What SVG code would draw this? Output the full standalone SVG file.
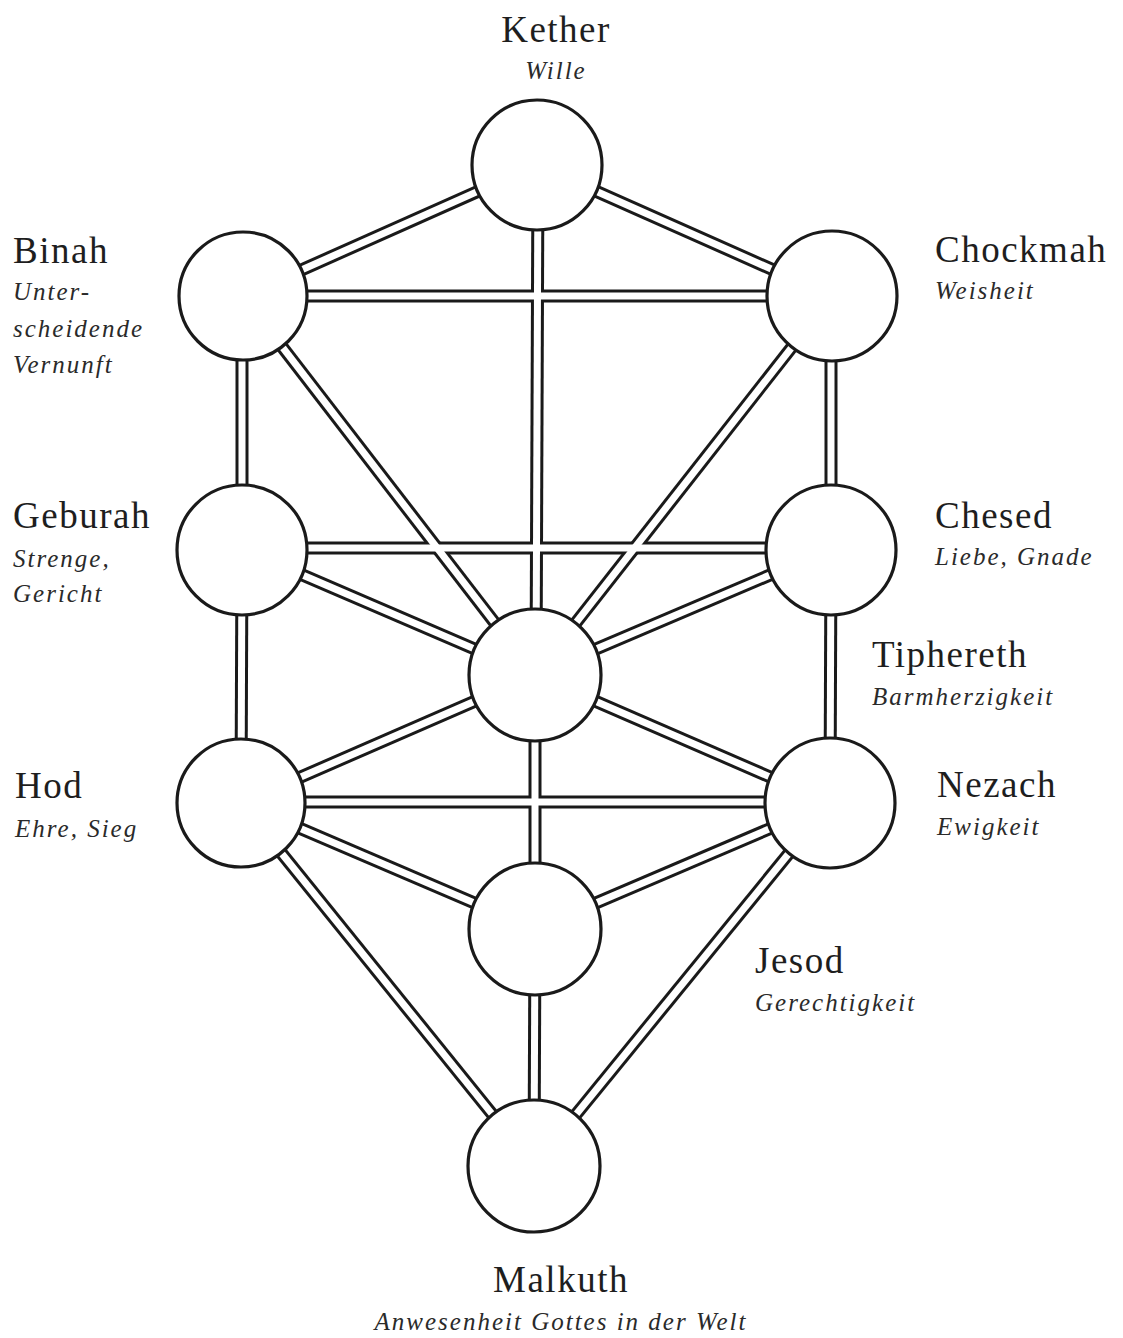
<svg xmlns="http://www.w3.org/2000/svg" xmlns:xlink="http://www.w3.org/1999/xlink" width="1123" height="1338" viewBox="0 0 1123 1338">
<style>
.bg{fill:#ffffff}
.node circle{fill:#ffffff;stroke:#1a1a1a;stroke-width:3.2}
.title{font-family:"Liberation Serif","Times New Roman",serif;font-size:37px;letter-spacing:1.5px;fill:#1e1e1e}
.sub{font-family:"Liberation Serif","Times New Roman",serif;font-style:italic;font-size:25px;letter-spacing:2px;fill:#2a2a2a}
.outer{stroke:#1a1a1a;stroke-width:13;fill:none}
.inner{stroke:#ffffff;stroke-width:7;fill:none}
</style>
<defs>
<g id="paths">
<line x1="537" y1="165" x2="243" y2="296"/>
<line x1="537" y1="165" x2="832" y2="296"/>
<line x1="538" y1="165" x2="536" y2="675"/>
<line x1="243" y1="296" x2="832" y2="296"/>
<line x1="242" y1="296" x2="242" y2="549"/>
<line x1="831" y1="296" x2="831" y2="549"/>
<line x1="243" y1="296" x2="535" y2="675"/>
<line x1="832" y1="296" x2="535" y2="675"/>
<line x1="242" y1="548" x2="831" y2="548"/>
<line x1="242" y1="549" x2="535" y2="675"/>
<line x1="831" y1="549" x2="535" y2="675"/>
<line x1="242" y1="549" x2="241" y2="803"/>
<line x1="831" y1="549" x2="830" y2="803"/>
<line x1="535" y1="675" x2="241" y2="803"/>
<line x1="535" y1="675" x2="830" y2="803"/>
<line x1="241" y1="802" x2="830" y2="802"/>
<line x1="535" y1="675" x2="535" y2="929"/>
<line x1="241" y1="803" x2="535" y2="929"/>
<line x1="830" y1="803" x2="535" y2="929"/>
<line x1="241" y1="803" x2="534" y2="1166"/>
<line x1="830" y1="803" x2="534" y2="1166"/>
<line x1="535" y1="929" x2="534" y2="1166"/>
</g>
</defs>
<rect class="bg" x="0" y="0" width="1123" height="1338"/>
<g id="connectors">
<use xlink:href="#paths" href="#paths" class="outer"/>
<use xlink:href="#paths" href="#paths" class="inner"/>
</g>
<g id="kether" class="node">
<circle cx="537" cy="165" r="65"/>
<text class="title" x="556" y="42" text-anchor="middle">Kether</text>
<text class="sub" x="556" y="79" text-anchor="middle">Wille</text>
</g>
<g id="binah" class="node">
<circle cx="243" cy="296" r="64"/>
<text class="title" x="13" y="263">Binah</text>
<text class="sub" x="13" y="300">Unter-</text>
<text class="sub" x="13" y="337">scheidende</text>
<text class="sub" x="13" y="373">Vernunft</text>
</g>
<g id="chockmah" class="node">
<circle cx="832" cy="296" r="65"/>
<text class="title" x="935" y="262">Chockmah</text>
<text class="sub" x="935" y="299">Weisheit</text>
</g>
<g id="geburah" class="node">
<circle cx="242" cy="550" r="65"/>
<text class="title" x="13" y="528">Geburah</text>
<text class="sub" x="13" y="567">Strenge,</text>
<text class="sub" x="13" y="602">Gericht</text>
</g>
<g id="chesed" class="node">
<circle cx="831" cy="550" r="65"/>
<text class="title" x="935" y="528">Chesed</text>
<text class="sub" x="935" y="565">Liebe, Gnade</text>
</g>
<g id="tiphereth" class="node">
<circle cx="535" cy="675" r="66"/>
<text class="title" x="872" y="667">Tiphereth</text>
<text class="sub" x="872" y="705">Barmherzigkeit</text>
</g>
<g id="hod" class="node">
<circle cx="241" cy="803" r="64"/>
<text class="title" x="15" y="798">Hod</text>
<text class="sub" x="15" y="837">Ehre, Sieg</text>
</g>
<g id="nezach" class="node">
<circle cx="830" cy="803" r="65"/>
<text class="title" x="937" y="797">Nezach</text>
<text class="sub" x="937" y="835">Ewigkeit</text>
</g>
<g id="jesod" class="node">
<circle cx="535" cy="929" r="66"/>
<text class="title" x="755" y="973">Jesod</text>
<text class="sub" x="755" y="1011">Gerechtigkeit</text>
</g>
<g id="malkuth" class="node">
<circle cx="534" cy="1166" r="66"/>
<text class="title" x="561" y="1292" text-anchor="middle">Malkuth</text>
<text class="sub" x="561" y="1330" text-anchor="middle">Anwesenheit Gottes in der Welt</text>
</g>
</svg>
